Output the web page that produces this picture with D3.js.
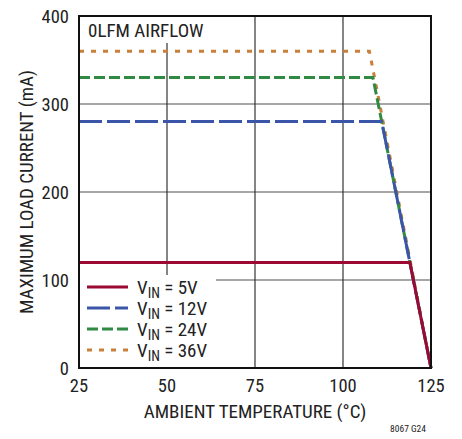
<!DOCTYPE html>
<html>
<head>
<meta charset="utf-8">
<script src="https://d3js.org/d3.v7.min.js"></script>
<style>
  body { margin: 0; background: #fff; }
  text { font-family: "Liberation Sans Narrow", "Roboto Condensed", "Arial Narrow", sans-serif; fill: #222; }
</style>
</head>
<body>
<div id="chart"></div>
<script>
// chart data
const xTicks = [25, 50, 75, 100, 125];
const yTicks = [0, 100, 200, 300, 400];

const seriesNames = ["5V", "12V", "24V", "36V"];
const seriesColors = ["#9a0a32", "#3b56a8", "#2f8a44", "#c8803a"];
const seriesDash = ["none", "23,5", "11,4", "5,7"];
// each curve: flat until derating knee, then down to (125, 0)
const curveTemps = [[25, 119, 125], [25, 111, 125], [25, 108.5, 125], [25, 107.5, 125]];
const curveCurrents = [[120, 120, 0], [280, 280, 0], [330, 330, 0], [360, 360, 0]];

const width = 462, height = 439;
const margin = { left: 79, top: 16, right: 31, bottom: 71 };

const svg = d3.select("#chart").append("svg")
  .attr("width", width)
  .attr("height", height);

const x = d3.scaleLinear().domain([25, 125]).range([margin.left, width - margin.right]);
const y = d3.scaleLinear().domain([0, 400]).range([height - margin.bottom, margin.top]);

// grid
svg.append("g").selectAll("line")
  .data(yTicks.slice(1, -1))
  .join("line")
  .attr("x1", x(25)).attr("x2", x(125))
  .attr("y1", d => y(d)).attr("y2", d => y(d))
  .attr("stroke", "#8a8a8a").attr("stroke-width", 1.5);

svg.append("g").selectAll("line")
  .data(xTicks.slice(1, -1))
  .join("line")
  .attr("x1", d => x(d)).attr("x2", d => x(d))
  .attr("y1", y(0)).attr("y2", y(400))
  .attr("stroke", "#333").attr("stroke-width", 1.2);

// airflow label box (covers grid)
svg.append("rect")
  .attr("x", x(25) + 1).attr("y", y(400) + 1)
  .attr("width", 132).attr("height", 26)
  .attr("fill", "#fff");
svg.append("text")
  .attr("x", x(25) + 9).attr("y", y(400) + 21)
  .attr("font-size", 19)
  .text("0LFM AIRFLOW");

// lines
const line = d3.line().x(d => x(d[0])).y(d => y(d[1]));
const order = [3, 2, 1, 0];
order.forEach(i => {
  const pts = curveTemps[i].map((t, k) => [t, curveCurrents[i][k]]);
  svg.append("path")
    .attr("d", line(pts))
    .attr("fill", "none")
    .attr("stroke", seriesColors[i])
    .attr("stroke-width", 3)
    .attr("stroke-dasharray", seriesDash[i]);
});

// legend box (covers grid)
const lg = svg.append("g");
lg.append("rect")
  .attr("x", x(25) + 1).attr("y", 275)
  .attr("width", 136).attr("height", y(0) - 276)
  .attr("fill", "#fff");
seriesNames.forEach((n, i) => {
  const ly = 287 + i * 21;
  lg.append("line")
    .attr("x1", 87).attr("x2", 128)
    .attr("y1", ly).attr("y2", ly)
    .attr("stroke", seriesColors[i])
    .attr("stroke-width", 3)
    .attr("stroke-dasharray", seriesDash[i]);
  const t = lg.append("text")
    .attr("x", 137).attr("y", ly + 7)
    .attr("font-size", 19);
  t.append("tspan").text("V");
  t.append("tspan").attr("font-size", 14).attr("dy", 4).text("IN");
  t.append("tspan").attr("dy", -4).text(" = " + n);
});

// frame
svg.append("rect")
  .attr("x", x(25)).attr("y", y(400))
  .attr("width", x(125) - x(25)).attr("height", y(0) - y(400))
  .attr("fill", "none").attr("stroke", "#111").attr("stroke-width", 2);

// tick labels
svg.append("g").selectAll("text")
  .data(yTicks)
  .join("text")
  .attr("x", x(25) - 10).attr("y", d => y(d) + 7)
  .attr("text-anchor", "end")
  .attr("font-size", 18.5)
  .text(d => d);

svg.append("g").selectAll("text")
  .data(xTicks)
  .join("text")
  .attr("x", d => x(d)).attr("y", y(0) + 24)
  .attr("text-anchor", "middle")
  .attr("font-size", 18.5)
  .text(d => d);

// axis titles
svg.append("text")
  .attr("x", (x(25) + x(125)) / 2).attr("y", 418)
  .attr("text-anchor", "middle")
  .attr("font-size", 19)
  .text("AMBIENT TEMPERATURE (°C)");

svg.append("text")
  .attr("transform", `translate(33, ${(y(0) + y(400)) / 2}) rotate(-90)`)
  .attr("text-anchor", "middle")
  .attr("font-size", 19)
  .text("MAXIMUM LOAD CURRENT (mA)");

svg.append("text")
  .attr("x", 426).attr("y", 432)
  .attr("text-anchor", "end")
  .attr("font-size", 9.5)
  .text("8067 G24");
</script>
</body>
</html>
